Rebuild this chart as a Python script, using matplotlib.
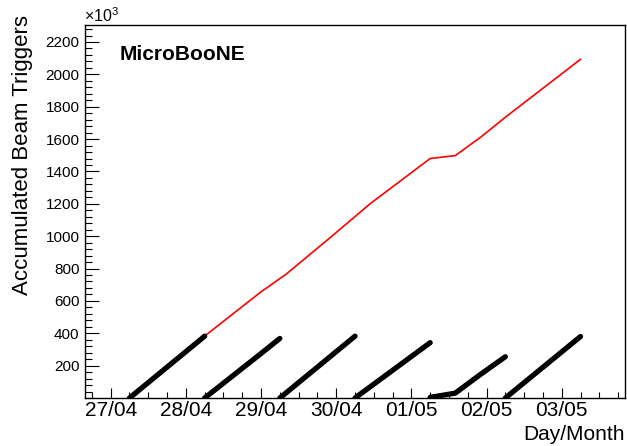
import numpy as np
import matplotlib.pyplot as plt
from matplotlib.ticker import MultipleLocator, FixedLocator

plt.rcParams['font.family'] = ['Liberation Sans', 'DejaVu Sans']
plt.rcParams['mathtext.fontset'] = 'custom'
plt.rcParams['mathtext.rm'] = 'Liberation Sans'

# hours counted from 27/04 00:00, triggers in units of 10^3
day_labels = ["27/04", "28/04", "29/04", "30/04", "01/05", "02/05", "03/05"]

seg1_t = [6, 30]
seg1_v = [0, 382]
seg2_t = [30, 48, 54]
seg2_v = [0, 275, 368]
seg3_t = [54, 78]
seg3_v = [0, 382]
seg4_t = [78, 102]
seg4_v = [0, 342]
seg5_t = [102, 110, 118, 126]
seg5_v = [4, 30, 145, 255]
seg6_t = [126, 150]
seg6_v = [0, 380]

total_t = [30, 48, 56, 70, 82.8, 102, 110, 118, 126, 150]
total_v = [383, 656, 765, 990, 1200, 1480, 1498, 1610, 1735, 2093]

daily = [(seg1_t, seg1_v), (seg2_t, seg2_v), (seg3_t, seg3_v),
         (seg4_t, seg4_v), (seg5_t, seg5_v), (seg6_t, seg6_v)]

fig = plt.figure(figsize=(6.27, 4.46), dpi=100)
ax = fig.add_axes([85 / 627, 1 - 398 / 446, 540 / 627, 373 / 446])

for t, v in daily:
    ax.plot(t, v, color='black', lw=3.8, solid_capstyle='round',
            solid_joinstyle='round', zorder=3)
ax.plot(total_t, total_v, color='red', lw=1.2, zorder=2)

ax.set_xlim(-8.2, 164.2)
ax.set_ylim(0, 2305)

ax.xaxis.set_major_locator(FixedLocator([24 * i for i in range(len(day_labels))]))
ax.set_xticklabels(day_labels, fontsize=15)
ax.xaxis.set_minor_locator(MultipleLocator(6))
ax.set_yticks(np.arange(200, 2201, 200))
ax.set_yticklabels([str(v) for v in range(200, 2201, 200)], fontsize=11)
ax.yaxis.set_minor_locator(MultipleLocator(40))

ax.tick_params(axis='both', which='both', direction='in', width=0.8,
               top=False, right=False)
ax.tick_params(axis='y', which='major', length=10, pad=4)
ax.tick_params(axis='y', which='minor', length=5)
ax.tick_params(axis='x', which='major', length=7, pad=2)
ax.tick_params(axis='x', which='minor', length=4)

for s in ax.spines.values():
    s.set_linewidth(1.0)

fig.text(23 / 627, 1 - 15 / 446, "Accumulated Beam Triggers", rotation=90,
         ha='center', va='top', fontsize=16)
fig.text(625 / 627, 1 - 444 / 446, "Day/Month", ha='right', va='bottom',
         fontsize=15)
fig.text(84 / 627, 1 - 25 / 446, r'$\mathregular{\times10^{3}}$', ha='left',
         va='bottom', fontsize=11.5)
ax.text(0.065, 0.92, "MicroBooNE", transform=ax.transAxes, fontsize=15,
        fontweight='bold', ha='left', va='center')

fig.savefig('out.png', dpi=100)
